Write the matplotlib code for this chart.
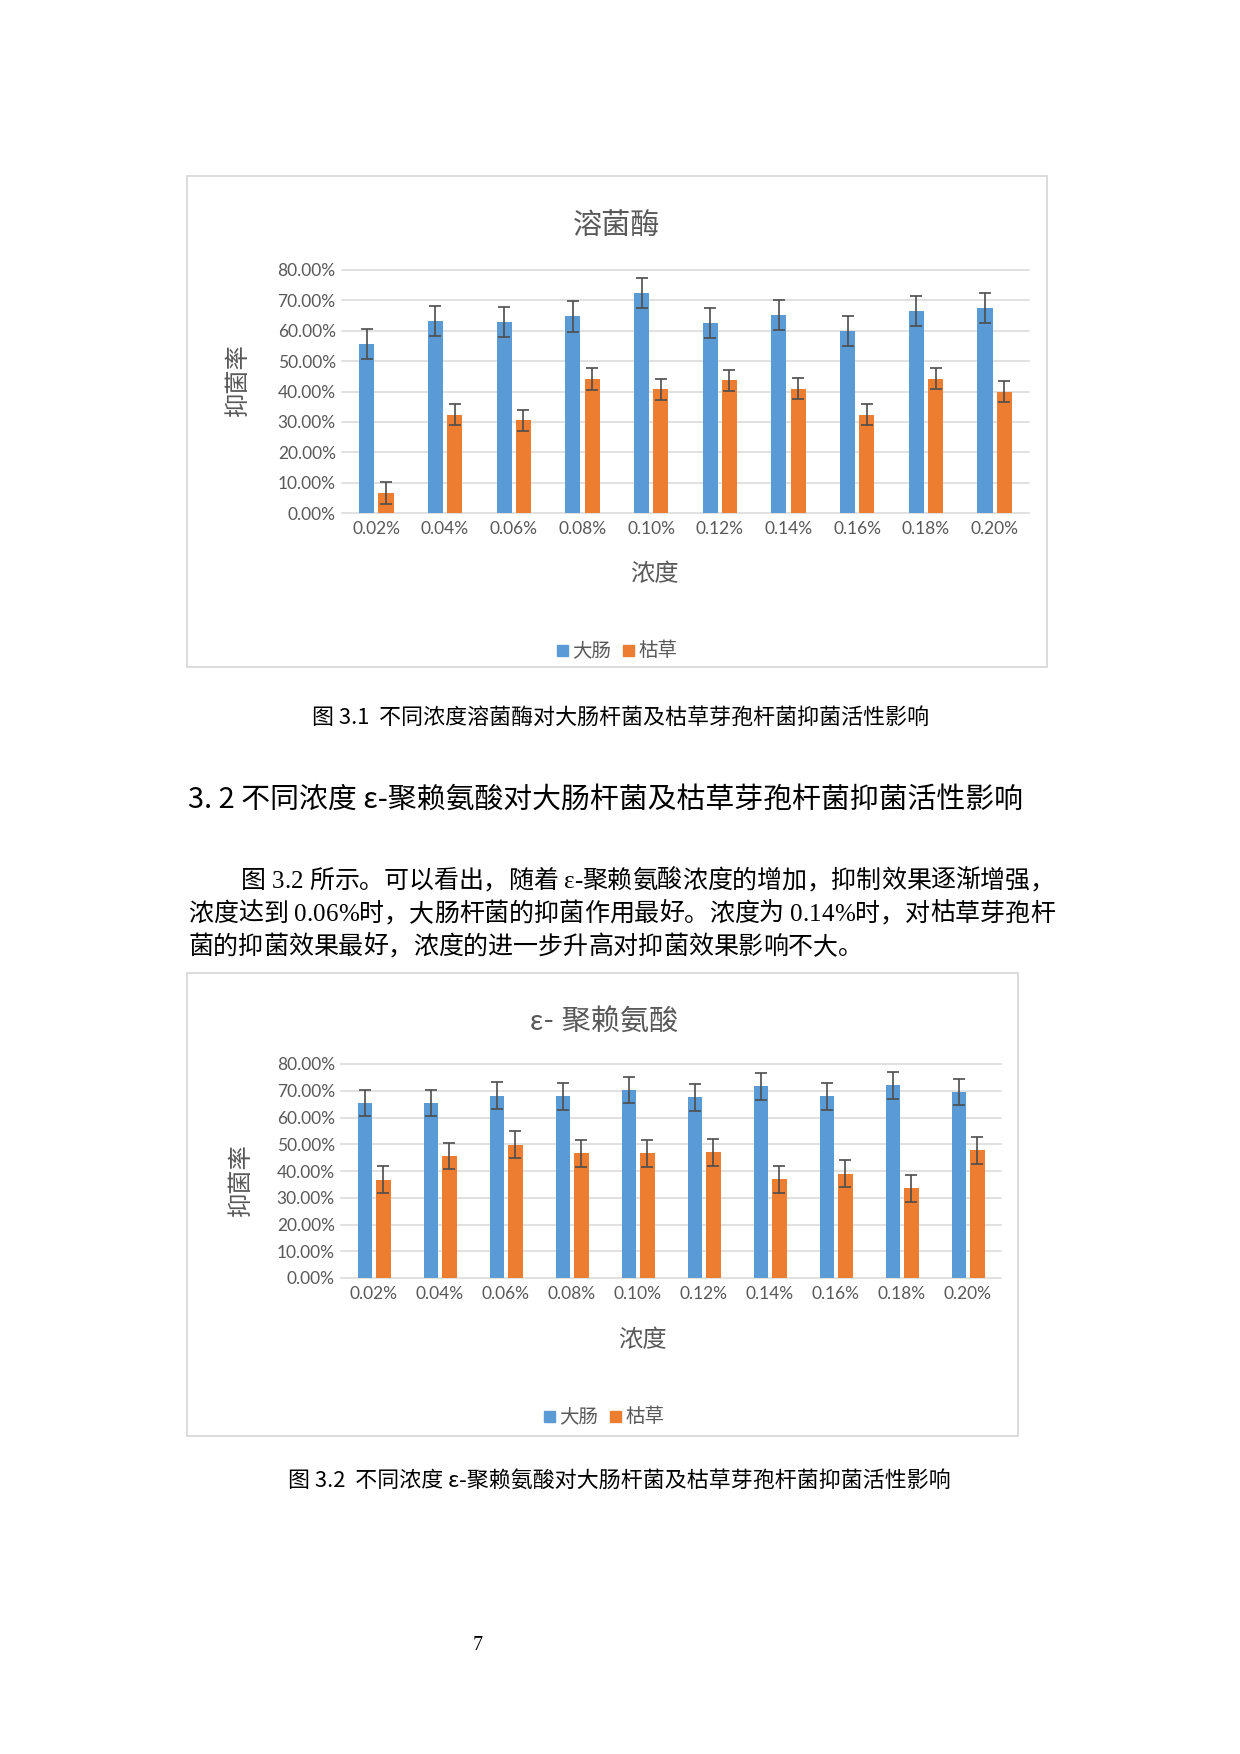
import numpy as np
import matplotlib
matplotlib.use('Agg')
import matplotlib.pyplot as plt
from matplotlib.patches import Rectangle
from matplotlib.font_manager import findfont, FontProperties
from matplotlib.ft2font import FT2Font

W, H = 1240, 1754

# data
conc = ['0.02%', '0.04%', '0.06%', '0.08%', '0.10%', '0.12%', '0.14%', '0.16%', '0.18%', '0.20%']
series = ['大肠', '枯草']

lyso_ecoli = [55.7, 63.3, 62.8, 64.7, 72.5, 62.6, 65.2, 59.9, 66.6, 67.5]
lyso_ecoli_err = [5.0, 5.0, 5.0, 5.0, 5.0, 5.0, 5.0, 5.0, 5.0, 5.0]
lyso_bsub = [6.6, 32.4, 30.5, 44.1, 40.7, 43.7, 40.9, 32.4, 44.2, 40.0]
lyso_bsub_err = [3.5, 3.5, 3.5, 3.5, 3.5, 3.5, 3.5, 3.5, 3.5, 3.5]

pl_ecoli = [65.4, 65.4, 68.1, 67.9, 70.3, 67.6, 71.6, 67.9, 72.1, 69.5]
pl_ecoli_err = [5.0, 5.0, 5.0, 5.0, 5.0, 5.0, 5.0, 5.0, 5.0, 5.0]
pl_bsub = [36.8, 45.6, 49.8, 46.6, 46.6, 47.0, 36.9, 39.0, 33.5, 47.7]
pl_bsub_err = [5.0, 5.0, 5.0, 5.0, 5.0, 5.0, 5.0, 5.0, 5.0, 5.0]

yticks = [0, 10, 20, 30, 40, 50, 60, 70, 80]

BLUE = '#5B9BD5'
ORANGE = '#ED7D31'
GREY = '#595959'
GRID = '#D9D9D9'
CHART_FONT = ['Lato', 'Noto Sans CJK SC']
SERIF = ['Liberation Serif', 'Noto Sans CJK SC']
SANS = ['Noto Sans CJK SC', 'DejaVu Sans']

fig = plt.figure(figsize=(W / 100, H / 100), dpi=100)
fig.patch.set_facecolor('white')


def fx(x):
    return x / W


def fy(y):
    return 1 - y / H


def chart(box, plot, title, title_xy, xlab_xy, ylab_xy, leg_xy,
          ecoli, ecoli_err, bsub, bsub_err):
    fig.patches.append(Rectangle((fx(box[0]), fy(box[3])), (box[2] - box[0]) / W,
                                 (box[3] - box[1]) / H, transform=fig.transFigure,
                                 fill=False, ec=GRID, lw=1.3))
    ax = fig.add_axes([fx(plot[0]), fy(plot[3]), (plot[2] - plot[0]) / W,
                       (plot[3] - plot[1]) / H])
    x = np.arange(len(conc))
    ekw = dict(ecolor='#4D4D4D', elinewidth=1.2, capsize=4.3, capthick=1.2)
    ax.bar(x - 0.14, ecoli, 0.22, color=BLUE, yerr=ecoli_err, error_kw=ekw, zorder=3)
    ax.bar(x + 0.14, bsub, 0.22, color=ORANGE, yerr=bsub_err, error_kw=ekw, zorder=3)
    ax.set_xlim(-0.5, len(conc) - 0.5)
    ax.set_ylim(0, 80)
    ax.set_yticks(yticks)
    ax.set_yticklabels([f'{v:.2f}%' for v in yticks])
    ax.set_xticks(x)
    ax.set_xticklabels(conc)
    ax.grid(axis='y', color=GRID, lw=1.1)
    ax.set_axisbelow(True)
    for ln in ax.get_ygridlines():
        ln.set_clip_on(False)
    for s in ax.spines.values():
        s.set_visible(False)
    ax.tick_params(length=0, labelsize=12.5, labelcolor=GREY)
    ax.tick_params(axis='y', pad=4.5)
    ax.tick_params(axis='x', pad=5.5)
    for lab in ax.get_xticklabels() + ax.get_yticklabels():
        lab.set_family(CHART_FONT)
    fig.text(fx(title_xy[0]), fy(title_xy[1]), title, fontsize=21, color=GREY,
             family=CHART_FONT, ha='center', va='center')
    fig.text(fx(xlab_xy[0]), fy(xlab_xy[1]), '浓度', fontsize=17.5, color=GREY,
             family=CHART_FONT, ha='center', va='center')
    fig.text(fx(ylab_xy[0]), fy(ylab_xy[1]), '抑菌率', fontsize=17.5, color=GREY,
             family=CHART_FONT, ha='center', va='center', rotation=90)
    # legend drawn by hand so it sits where excel put it
    cx, cy = leg_xy
    for dx, col, name in [(-60, BLUE, series[0]), (6, ORANGE, series[1])]:
        fig.patches.append(Rectangle((fx(cx + dx), fy(cy + 5.5)), 11 / W, 11 / H,
                                     transform=fig.transFigure, color=col))
        fig.text(fx(cx + dx + 15), fy(cy), name, fontsize=14, color=GREY,
                 family=CHART_FONT, ha='left', va='center')
    return ax


chart((187, 176, 1047, 667), (342, 270, 1029, 513), '溶菌酶', (617, 225),
      (654, 574), (238, 380), (617, 650),
      lyso_ecoli, lyso_ecoli_err, lyso_bsub, lyso_bsub_err)

chart((187, 973, 1018, 1436), (341, 1064, 1001, 1278), 'ε- 聚赖氨酸', (604, 1021),
      (642, 1340), (241, 1180), (604, 1416),
      pl_ecoli, pl_ecoli_err, pl_bsub, pl_bsub_err)


# page text
serif_font = FT2Font(findfont(FontProperties(family='Liberation Serif')), hinting_factor=1)
cjk_font = FT2Font(findfont(FontProperties(family='Noto Sans CJK SC')), hinting_factor=1)


def em_width(ch):
    for f in (serif_font, cjk_font):
        if ord(ch) in f.get_charmap():
            f.set_size(72, 72)
            g = f.load_char(ord(ch))
            return g.linearHoriAdvance / 65536 / 72
    return 0.5


def para_line(s, x0, base, size, x1=None):
    px = size * 100 / 72
    adv = [em_width(c) * px for c in s]
    gap = 0
    if x1 is not None:
        gap = (x1 - x0 - sum(adv)) / (len(s) - 1)
    pos = x0
    for c, a in zip(s, adv):
        if c != ' ':
            fig.text(fx(pos), fy(base), c, fontsize=size, family=SERIF,
                     ha='left', va='baseline', color='black')
        pos += a + gap


fig.text(fx(621), fy(724), '图 3.1  不同浓度溶菌酶对大肠杆菌及枯草芽孢杆菌抑菌活性影响',
         fontsize=15.8, family=SANS, ha='center', va='baseline', color='black')

fig.text(fx(188), fy(808), '3. 2 不同浓度 ε-聚赖氨酸对大肠杆菌及枯草芽孢杆菌抑菌活性影响',
         fontsize=20.8, family=SANS, ha='left', va='baseline', color='black')

para_line('图 3.2 所示。可以看出，随着 ε-聚赖氨酸浓度的增加，抑制效果逐渐增强，',
          241, 888, 18, 1055)
para_line('浓度达到 0.06%时，大肠杆菌的抑菌作用最好。浓度为 0.14%时，对枯草芽孢杆',
          188, 921, 18, 1055)
para_line('菌的抑菌效果最好，浓度的进一步升高对抑菌效果影响不大。', 188, 954, 18)

fig.text(fx(619), fy(1487), '图 3.2  不同浓度 ε-聚赖氨酸对大肠杆菌及枯草芽孢杆菌抑菌活性影响',
         fontsize=15.8, family=SANS, ha='center', va='baseline', color='black')

fig.text(fx(478), fy(1650), '7', fontsize=14.5, family=['Liberation Serif'],
         ha='center', va='baseline', color='black')

fig.savefig('out.png', dpi=100, facecolor='white')
